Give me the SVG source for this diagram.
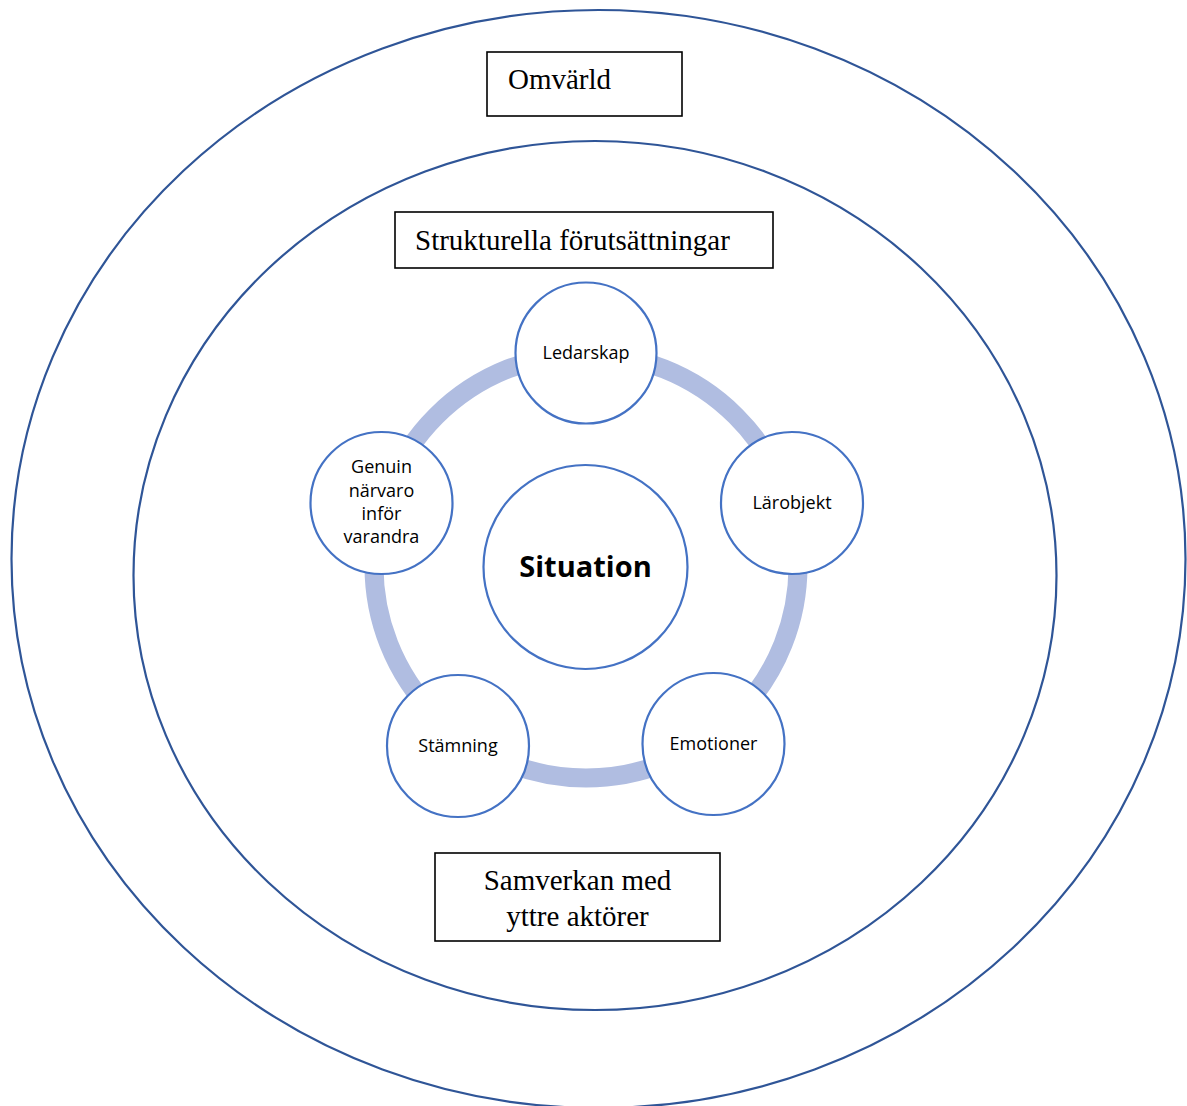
<svg xmlns="http://www.w3.org/2000/svg" width="1187" height="1106" viewBox="0 0 1187 1106">
<style>
.ell{fill:none;stroke:#2F5597;stroke-width:2.2}
.box{fill:#fff;stroke:#000;stroke-width:1.6}
.serif{font-family:"Liberation Serif","Times New Roman",serif;font-size:29px;fill:#000}
.node{fill:#fff;stroke:#4472C4;stroke-width:2.2}
.lbl{font-family:"Open Sans","Noto Sans",sans-serif;font-size:18px;fill:#000;text-anchor:middle}
</style>
<rect width="1187" height="1106" fill="#fff"/>
<g id="omvarld">
<ellipse class="ell" cx="598.5" cy="559" rx="587" ry="549"/>
<rect class="box" x="487" y="52" width="195" height="64"/>
<text class="serif" x="508" y="89">Omvärld</text>
</g>
<g id="strukturella">
<ellipse class="ell" cx="595" cy="575.5" rx="461.5" ry="434.5"/>
<rect class="box" x="395" y="212" width="378" height="56"/>
<text class="serif" x="415" y="250">Strukturella förutsättningar</text>
</g>
<g id="samverkan">
<rect class="box" x="435" y="853" width="285" height="88"/>
<text class="serif" x="577.5" y="890" text-anchor="middle">Samverkan med</text>
<text class="serif" x="577.5" y="926" text-anchor="middle">yttre aktörer</text>
</g>
<g id="connectors">
<circle cx="586" cy="566" r="212" fill="none" stroke="#B0BDE1" stroke-width="19"/>
</g>
<g id="situation">
<circle class="node" cx="585.5" cy="567" r="102"/>
<text x="585.5" y="577" font-family="Open Sans,Noto Sans,sans-serif" font-size="29" font-weight="bold" text-anchor="middle">Situation</text>
</g>
<g id="ledarskap">
<circle class="node" cx="586" cy="353" r="70.5"/>
<text class="lbl" x="586" y="359">Ledarskap</text>
</g>
<g id="larobjekt">
<circle class="node" cx="792" cy="503" r="71"/>
<text class="lbl" x="792" y="509">Lärobjekt</text>
</g>
<g id="emotioner">
<circle class="node" cx="713.5" cy="744" r="71"/>
<text class="lbl" x="713.5" y="750">Emotioner</text>
</g>
<g id="stamning">
<circle class="node" cx="458" cy="746" r="71"/>
<text class="lbl" x="458" y="752">Stämning</text>
</g>
<g id="genuin">
<circle class="node" cx="381.5" cy="503" r="71"/>
<text class="lbl" x="381.5" y="473">Genuin</text>
<text class="lbl" x="381.5" y="497">närvaro</text>
<text class="lbl" x="381.5" y="520">inför</text>
<text class="lbl" x="381.5" y="543">varandra</text>
</g>
</svg>
